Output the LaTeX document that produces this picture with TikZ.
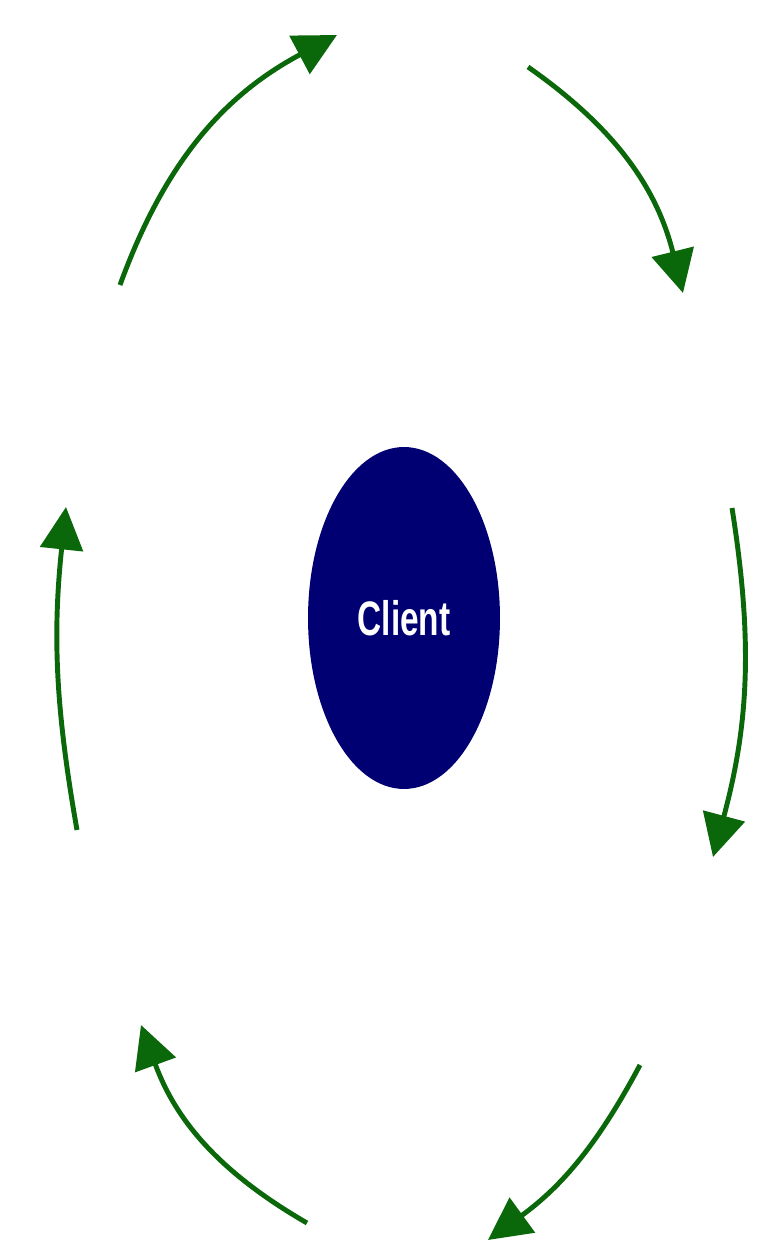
\documentclass[tikz,border=0pt]{standalone}
\usepackage{fontspec}
\setsansfont{Liberation Sans}
\usetikzlibrary{arrows.meta,shapes.geometric,positioning}
\definecolor{cyclegreen}{RGB}{10,104,10}
\definecolor{clientblue}{RGB}{0,0,115}
\tikzstyle{flow}=[draw=cyclegreen, line width=2.8pt, -{Triangle[length=0.85cm,width=0.85cm]}]
\tikzstyle{client}=[ellipse, fill=clientblue, minimum width=3.84cm, minimum height=6.84cm, inner sep=0pt, text=white, font=\sffamily\bfseries\fontsize{19}{19}\selectfont]

\begin{document}
\begin{tikzpicture}[x=0.02cm,y=0.02cm]
\useasboundingbox (0,0) rectangle (768,1252);
\node[client] (c) at (404,634) {\scalebox{1}[1.45]{Client}};
% ends of the arcs round the client
\coordinate (a1) at (120,967);
\coordinate (a2) at (337,1217);
\coordinate (b1) at (528,1185);
\coordinate (b2) at (683,959);
\coordinate (c1) at (732,744);
\coordinate (c2) at (713,395);
\coordinate (d1) at (640,187);
\coordinate (d2) at (488,12);
\coordinate (e1) at (307,29);
\coordinate (e2) at (141,227);
\coordinate (f1) at (77,422);
\coordinate (f2) at (66,745);
\draw[flow] (a1) to[out=70,in=208] (a2);
\draw[flow] (b1) to[out=-35,in=104] (b2);
\draw[flow] (c1) to[out=-81,in=75] (c2);
\draw[flow] (d1) to[out=-118,in=36] (d2);
\draw[flow] (e1) to[out=150,in=-70] (e2);
\draw[flow] (f1) to[out=100,in=-96] (f2);
\end{tikzpicture}
\end{document}
